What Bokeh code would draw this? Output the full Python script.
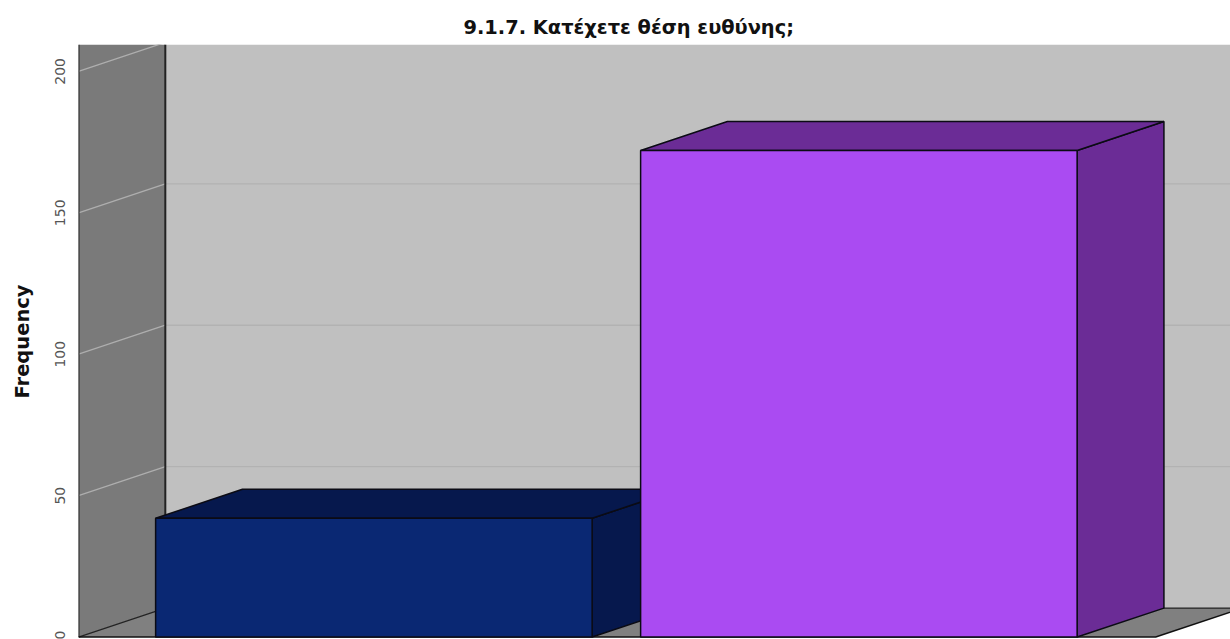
from bokeh.plotting import figure
from bokeh.models import FixedTicker, Title, Range1d
from bokeh.embed import file_html
from bokeh.resources import INLINE

categories = ["A", "B"]
frequency = [42, 172]
tick_values = [0, 50, 100, 150, 200]
title_text = "9.1.7. Κατέχετε θέση ευθύνης;"
y_title = "Frequency"

BAR_W = 0.9
DX = 0.179
DY = 10.25
X0 = -0.609
X1 = 1.612
YMAX = 209.5
FAR = X1 + 1

front_colors = ["#0A2873", "#AA4BF2"]
dark_colors = ["#06184D", "#6B2C96"]
EDGE = "#0b0b14"

p = figure(width=1230, height=639, output_backend="svg", toolbar_location=None,
           y_range=Range1d(-0.5, YMAX),
           x_range=Range1d(X0, X0 + (1230 - 78) / 485),
           min_border_left=78, min_border_right=0, min_border_top=44, min_border_bottom=1,
           margin=(0, 0, 0, 0), outline_line_color=None, background_fill_color="white")
p.xaxis.visible = False
p.xgrid.visible = False
p.ygrid.visible = False

ax = p.yaxis[0]
ax.ticker = FixedTicker(ticks=tick_values)
ax.major_label_orientation = "vertical"
ax.major_label_text_font = "DejaVu Sans"
ax.major_label_text_font_size = "14px"
ax.major_label_text_color = "#555555"
ax.major_tick_line_color = None
ax.minor_tick_line_color = None
ax.axis_line_color = None
ax.major_label_standoff = 7
ax.axis_label = y_title
ax.axis_label_text_font = "DejaVu Sans"
ax.axis_label_text_font_style = "bold"
ax.axis_label_text_font_size = "19.5px"
ax.axis_label_text_color = "#111111"
ax.axis_label_standoff = 19

p.add_layout(Title(text=title_text, align="left", offset=385, text_font="DejaVu Sans",
                   text_font_style="bold", text_font_size="19.4px", text_color="#111111",
                   standoff=11), "above")

# back wall, side wall, floor
p.patch([X0 + DX, FAR, FAR, X0 + DX], [DY, DY, YMAX, YMAX], fill_color="#C0C0C0", line_color=None)
p.patch([X0, X0 + DX, X0 + DX, X0], [0, DY, YMAX, YMAX], fill_color="#7A7A7A", line_color=None)
p.patch([X0, X0 + DX, X1 + DX, X1], [0, DY, DY, 0], fill_color="#808080", line_color=None)

# grid lines
for t in tick_values[1:]:
    p.line([X0, X0 + DX], [t, t + DY], line_color="#AEAEAE", line_width=1.3)
    p.line([X0 + DX, FAR], [t + DY, t + DY], line_color="#B2B2B2", line_width=1.3)

# frame edges
p.line([X0, X0], [0, YMAX], line_color="#222222", line_width=2)
p.line([X0 + DX, X0 + DX], [DY, YMAX], line_color="#222222", line_width=2)
p.line([X0, X0 + DX, FAR], [0, DY, DY], line_color="#222222", line_width=1.2)
p.line([X0, X1, X1 + DX], [0, 0, DY], line_color="#111111", line_width=1.5)

# bars
for i, v in enumerate(frequency):
    l, r = i - BAR_W / 2, i + BAR_W / 2
    p.patch([r, r + DX, r + DX, r], [0, DY, v + DY, v], fill_color=dark_colors[i],
            line_color=EDGE, line_width=1.5)
    p.patch([l, r, r + DX, l + DX], [v, v, v + DY, v + DY], fill_color=dark_colors[i],
            line_color=EDGE, line_width=1.5)
    p.quad(left=l, right=r, bottom=0, top=v, fill_color=front_colors[i],
           line_color=EDGE, line_width=1.5)

open("out.html", "w").write(file_html(p, INLINE))
